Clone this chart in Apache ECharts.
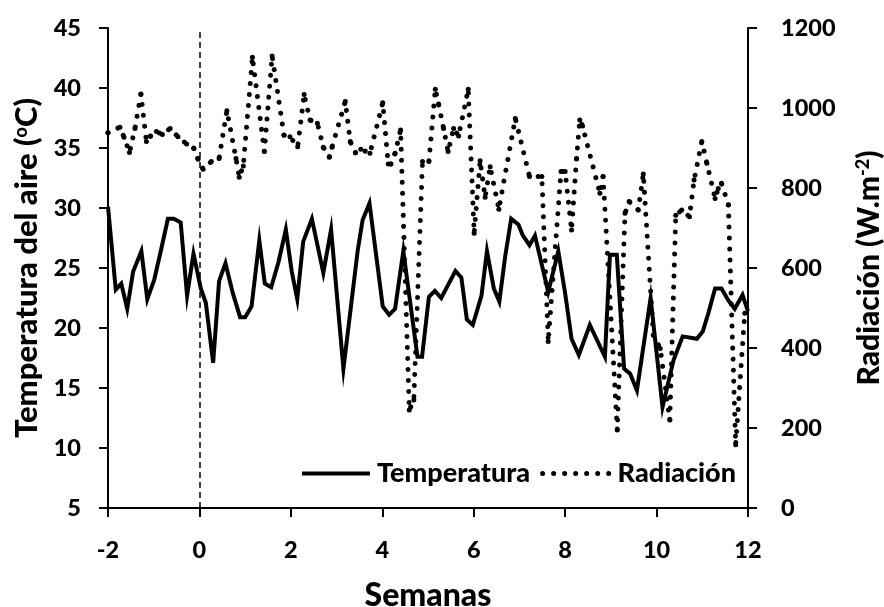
<!DOCTYPE html>
<html>
<head>
<meta charset="utf-8">
<script src="https://cdn.jsdelivr.net/npm/echarts@6/dist/echarts.min.js"></script>
<style>
html,body{margin:0;padding:0;background:#fff;}
#c{width:884px;height:607px;}
</style>
</head>
<body>
<div id="c"></div>
<script>
// Temperatura del aire (°C) vs semanas
const tempWeeks = [-2.00,-1.83,-1.71,-1.58,-1.45,-1.27,-1.14,-0.99,-0.84,-0.69,-0.56,-0.41,-0.27,-0.13,0.03,0.14,0.30,0.43,0.57,0.73,0.89,1.00,1.14,1.31,1.43,1.57,1.73,1.89,2.02,2.14,2.27,2.46,2.71,2.88,3.15,3.46,3.57,3.72,4.01,4.15,4.28,4.46,4.77,4.87,5.02,5.15,5.29,5.44,5.60,5.73,5.85,5.98,6.17,6.29,6.44,6.56,6.69,6.82,6.98,7.07,7.22,7.34,7.63,7.85,8.00,8.14,8.30,8.54,8.87,8.98,9.13,9.29,9.42,9.57,9.87,10.13,10.37,10.57,10.88,11.01,11.13,11.28,11.42,11.57,11.71,11.88,12.00];
const tempValues = [30.1,23.2,23.7,21.6,24.7,26.4,22.4,24.0,26.5,29.1,29.1,28.8,22.7,26.2,23.3,22.1,17.1,23.9,25.4,22.9,20.9,20.9,21.8,27.3,23.7,23.4,25.5,28.2,24.7,22.4,27.2,29.1,24.6,28.2,16.6,26.4,29.0,30.4,21.8,21.1,21.6,26.4,17.6,17.6,22.6,23.1,22.5,23.6,24.75,24.2,20.7,20.25,22.7,26.4,23.3,22.2,26.0,29.1,28.6,27.75,26.9,27.7,23.0,26.4,22.9,19.1,17.75,20.25,17.6,26.1,26.1,16.6,16.2,14.8,22.5,13.4,17.3,19.3,19.1,19.7,21.2,23.3,23.3,22.3,21.6,22.75,21.4];

// Radiación (W.m-2) vs semanas
const radWeeks = [-2.00,-1.74,-1.65,-1.53,-1.41,-1.28,-1.16,-1.07,-0.94,-0.81,-0.64,-0.47,-0.28,-0.12,-0.03,0.08,0.26,0.43,0.60,0.80,0.87,0.96,1.16,1.42,1.59,1.85,1.98,2.15,2.29,2.42,2.58,2.71,2.84,2.90,3.19,3.30,3.41,3.53,3.73,4.01,4.13,4.19,4.28,4.40,4.59,4.69,4.88,5.02,5.16,5.23,5.34,5.44,5.56,5.67,5.88,6.01,6.14,6.25,6.36,6.55,6.91,7.22,7.49,7.63,7.91,8.00,8.14,8.25,8.32,8.38,8.76,8.83,9.14,9.31,9.40,9.60,9.71,9.93,10.08,10.29,10.42,10.55,10.72,10.82,10.99,11.10,11.28,11.35,11.42,11.57,11.73,11.93];
const radValues = [938,952,927,889,949,1035,916,930,941,934,949,928,910,899,872,847,866,874,993,874,827,855,1127,891,1130,932,928,903,1034,970,962,902,877,902,1016,916,888,897,887,1013,860,860,887,945,245,270,866,866,1047,1010,949,891,949,930,1047,687,868,777,853,747,974,829,829,416,841,841,695,874,970,955,787,829,195,737,766,745,835,432,399,220,732,745,728,820,916,862,774,799,812,758,158,487];

const xTicks = {min: -2, max: 12, interval: 2};
const leftTicks = {min: 5, max: 45, interval: 5};
const rightTicks = {min: 0, max: 1200, interval: 200};

const FONT = 'Lato';
const tempData = tempWeeks.map((w, i) => [w, tempValues[i]]);
const radData = radWeeks.map((w, i) => [w, radValues[i]]);

const chart = echarts.init(document.getElementById('c'), null, {renderer: 'canvas'});
const axisLineStyle = {color: '#000', width: 2};
const labelStyle = {color: '#000', fontFamily: FONT, fontWeight: 900, fontSize: 23.5, formatter: v => String(v)};
const dotStyle = {color: '#000', width: 5, type: [0.01, 11], cap: 'round'};
const titleStyle = {color: '#000', fontFamily: FONT, fontWeight: 900, fontSize: 31};
const supRich = {sup: {fontFamily: FONT, fontWeight: 900, fontSize: 18, verticalAlign: 'top', color: '#000', padding: [0, 0, 12, 0]}};

chart.setOption({
  animation: false,
  backgroundColor: '#fff',
  textStyle: {fontFamily: FONT},
  grid: {left: 108, right: 136, top: 28, bottom: 99, containLabel: false, outerBoundsMode: 'none'},
  legend: {
    right: 143, top: 455,
    itemWidth: 68, itemHeight: 14, itemGap: 10,
    itemStyle: {opacity: 0},
    textStyle: {color: '#000', fontFamily: FONT, fontWeight: 900, fontSize: 27, padding: [0, 0, 0, 2]},
    data: [
      {name: 'Temperatura', lineStyle: {color: '#000', width: 4}},
      {name: 'Radiación', lineStyle: dotStyle}
    ]
  },
  xAxis: {
    type: 'value', min: xTicks.min, max: xTicks.max, interval: xTicks.interval,
    name: 'Semanas', nameLocation: 'middle', nameGap: 72,
    nameTextStyle: Object.assign({}, titleStyle, {fontSize: 32}),
    axisLine: {show: true, onZero: false, lineStyle: axisLineStyle},
    axisTick: {show: true, length: 9, lineStyle: axisLineStyle},
    axisLabel: Object.assign({margin: 30}, labelStyle),
    splitLine: {show: false}
  },
  yAxis: [{
    type: 'value', position: 'left', min: leftTicks.min, max: leftTicks.max, interval: leftTicks.interval,
    name: 'Temperatura del aire ({sup|o}C)', nameLocation: 'middle', nameGap: 64, nameRotate: 90,
    nameTextStyle: Object.assign({rich: supRich}, titleStyle),
    axisLine: {show: true, onZero: false, lineStyle: axisLineStyle},
    axisTick: {show: true, length: 9, lineStyle: axisLineStyle},
    axisLabel: Object.assign({margin: 27}, labelStyle),
    splitLine: {show: false}
  }, {
    type: 'value', position: 'right', min: rightTicks.min, max: rightTicks.max, interval: rightTicks.interval,
    name: 'Radiación (W.m{sup|-2})', nameLocation: 'middle', nameGap: 106, nameRotate: 90,
    nameTextStyle: Object.assign({rich: supRich}, titleStyle, {fontSize: 30}),
    axisLine: {show: true, onZero: false, lineStyle: axisLineStyle},
    axisTick: {show: true, length: 9, lineStyle: axisLineStyle},
    axisLabel: Object.assign({margin: 33}, labelStyle),
    splitLine: {show: false}
  }],
  series: [{
    name: 'Temperatura', type: 'line', yAxisIndex: 0, data: tempData,
    showSymbol: false, symbol: 'none',
    lineStyle: {color: '#000', width: 4, join: 'miter'},
    itemStyle: {color: '#000'},
    markLine: {
      silent: true, symbol: ['none', 'none'], label: {show: false},
      lineStyle: {color: '#000', width: 1.5, type: [6, 4]},
      data: [{xAxis: 0}]
    }
  }, {
    name: 'Radiación', type: 'line', yAxisIndex: 1, data: radData,
    showSymbol: true, symbol: 'circle', symbolSize: 5,
    itemStyle: {color: '#000'},
    lineStyle: dotStyle
  }]
});
</script>
</body>
</html>
